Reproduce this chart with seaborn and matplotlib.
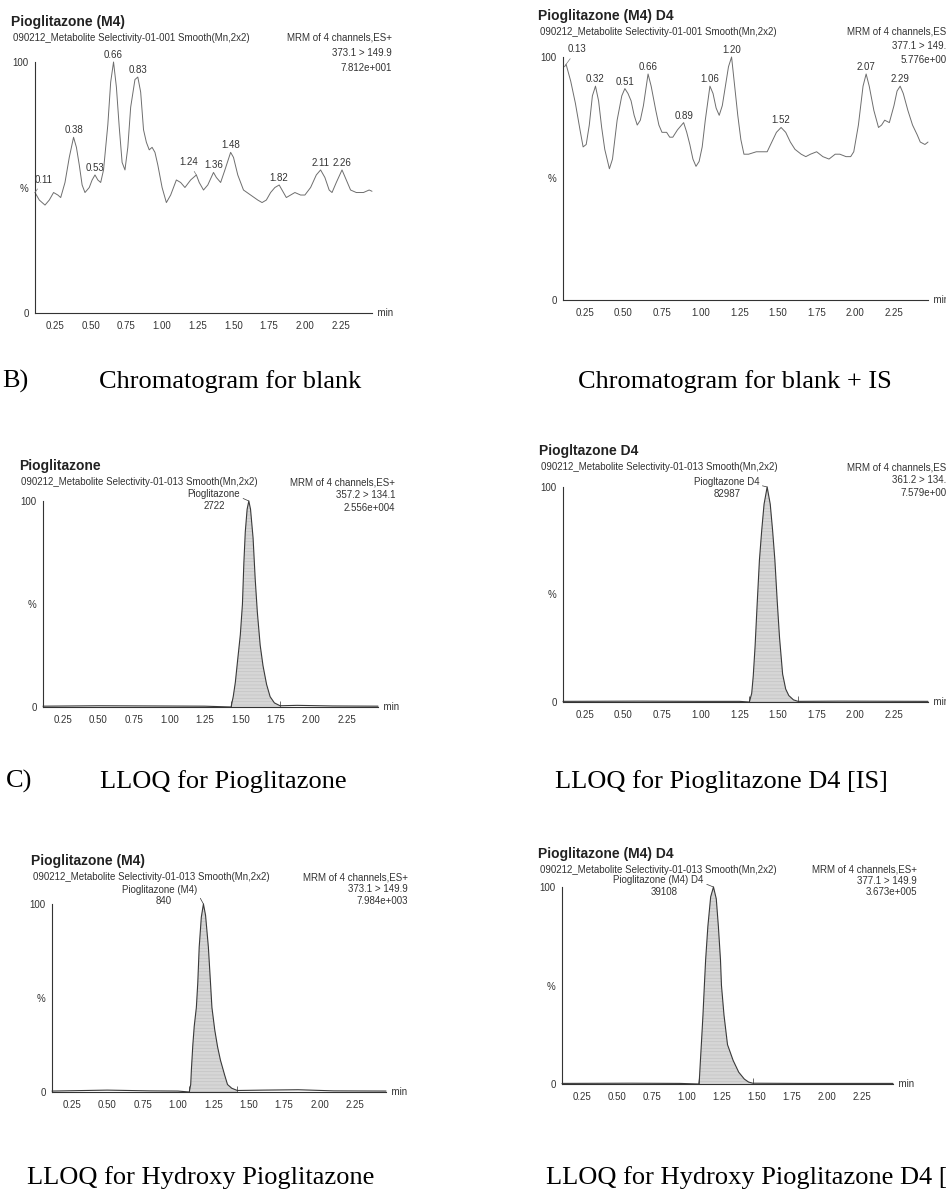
import matplotlib
matplotlib.use("Agg")
import matplotlib.pyplot as plt
from matplotlib.ticker import MultipleLocator
import seaborn as sns

# ------------------------------------------------------------
# DATA (time in min, % intensity)
# ------------------------------------------------------------

time_ticks = [0.25, 0.50, 0.75, 1.00, 1.25, 1.50, 1.75, 2.00, 2.25]
time_tick_labels = ["0.25", "0.50", "0.75", "1.00", "1.25", "1.50", "1.75", "2.00", "2.25"]
pct_ticks = [0, 50, 100]
pct_tick_labels = ["0", "%", "100"]

# A) blank, Pioglitazone (M4) channel
blank_t = [0.11, 0.14, 0.18, 0.21, 0.24, 0.27, 0.29, 0.32, 0.35, 0.38, 0.40, 0.42,
           0.44, 0.46, 0.49, 0.51, 0.53, 0.55, 0.57, 0.59, 0.62, 0.64, 0.66, 0.68,
           0.70, 0.72, 0.74, 0.76, 0.78, 0.81, 0.83, 0.85, 0.87, 0.89, 0.91, 0.93,
           0.95, 0.97, 1.00, 1.03, 1.06, 1.10, 1.13, 1.16, 1.20, 1.24, 1.26, 1.29,
           1.32, 1.36, 1.38, 1.41, 1.44, 1.48, 1.50, 1.53, 1.57, 1.62, 1.67, 1.70,
           1.73, 1.76, 1.79, 1.82, 1.85, 1.87, 1.90, 1.93, 1.97, 2.00, 2.04, 2.08,
           2.11, 2.14, 2.17, 2.19, 2.22, 2.26, 2.29, 2.32, 2.36, 2.41, 2.45, 2.47]
blank_v = [48, 45, 43, 45, 48, 47, 46, 52, 62, 70, 66, 59,
           51, 48, 50, 53, 55, 53, 52, 57, 75, 92, 100, 90,
           74, 60, 57, 66, 82, 93, 94, 88, 73, 68, 65, 66,
           64, 59, 50, 44, 47, 53, 52, 50, 53, 55, 52, 49,
           51, 56, 54, 52, 57, 64, 62, 55, 49, 47, 45, 44,
           45, 48, 50, 51, 48, 46, 47, 48, 47, 47, 50, 55,
           57, 54, 49, 48, 52, 57, 53, 49, 48, 48, 49, 48.5]
blank_peak_t = [0.11, 0.38, 0.53, 0.66, 0.83, 1.24, 1.36, 1.48, 1.82, 2.11, 2.26]
blank_peak_v = [48, 70, 55, 100, 94, 55, 56, 64, 51, 57, 57]

# blank + IS, Pioglitazone (M4) D4 channel
blank_is_t = [0.12, 0.13, 0.16, 0.19, 0.22, 0.24, 0.26, 0.28, 0.30, 0.32, 0.34, 0.36,
              0.38, 0.41, 0.43, 0.46, 0.49, 0.51, 0.53, 0.55, 0.57, 0.59, 0.61, 0.63,
              0.66, 0.68, 0.71, 0.73, 0.75, 0.78, 0.80, 0.82, 0.85, 0.89, 0.91, 0.93,
              0.95, 0.97, 0.99, 1.01, 1.03, 1.06, 1.08, 1.10, 1.12, 1.14, 1.16, 1.18,
              1.20, 1.22, 1.24, 1.26, 1.28, 1.31, 1.36, 1.40, 1.43, 1.46, 1.49, 1.52,
              1.55, 1.58, 1.61, 1.65, 1.68, 1.71, 1.75, 1.79, 1.83, 1.87, 1.90, 1.94,
              1.97, 1.99, 2.02, 2.05, 2.07, 2.09, 2.12, 2.15, 2.17, 2.19, 2.22, 2.25,
              2.27, 2.29, 2.31, 2.34, 2.37, 2.40, 2.42, 2.45, 2.47]
blank_is_v = [96, 97, 90, 81, 70, 63, 64, 72, 84, 88, 82, 71,
              62, 54, 58, 74, 84, 87, 85, 82, 76, 72, 74, 80,
              93, 88, 78, 72, 69, 69, 67, 67, 70, 73, 69, 64,
              58, 55, 57, 63, 74, 88, 85, 79, 76, 80, 88, 96,
              100, 88, 76, 66, 60, 60, 61, 61, 61, 65, 69, 71,
              69, 65, 62, 60, 59, 60, 61, 59, 58, 60, 60, 59,
              59, 61, 72, 88, 93, 88, 78, 71, 72, 74, 73, 80,
              86, 88, 85, 78, 72, 68, 65, 64, 65]
blank_is_peak_t = [0.13, 0.32, 0.51, 0.66, 0.89, 1.06, 1.20, 1.52, 2.07, 2.29]
blank_is_peak_v = [97, 88, 87, 93, 73, 88, 100, 71, 93, 88]

# B) LLOQ Pioglitazone
pio_t = [0.11, 0.50, 0.90, 1.25, 1.435, 1.45, 1.465, 1.48, 1.50, 1.515, 1.525, 1.535,
         1.548, 1.56, 1.572, 1.59, 1.605, 1.62, 1.64, 1.66, 1.685, 1.71, 1.74, 1.78,
         1.90, 2.15, 2.47]
pio_v = [0.4, 0.6, 0.5, 0.4, 0, 5, 12, 22, 35, 50, 70, 85,
         96, 100, 96, 82, 62, 46, 30, 20, 11, 5, 2, 0.6,
         0.8, 0.5, 0.4]
pio_d4_t = [0.11, 0.60, 1.00, 1.25, 1.315, 1.33, 1.34, 1.352, 1.365, 1.38, 1.395, 1.41,
            1.43, 1.45, 1.465, 1.48, 1.495, 1.51, 1.53, 1.55, 1.57, 1.60, 1.63,
            1.90, 2.47]
pio_d4_v = [0.3, 0.4, 0.3, 0.3, 0, 4, 12, 26, 45, 66, 80, 92,
            100, 92, 80, 66, 47, 30, 13, 6, 3, 1, 0.3,
            0.4, 0.3]

# C) LLOQ Hydroxy Pioglitazone (M4)
oh_t = [0.11, 0.50, 0.80, 1.00, 1.08, 1.09, 1.095, 1.105, 1.115, 1.13, 1.14, 1.15,
        1.165, 1.18, 1.195, 1.215, 1.23, 1.24, 1.26, 1.28, 1.30, 1.33, 1.35, 1.38,
        1.42, 1.60, 1.85, 2.10, 2.47]
oh_v = [0.5, 1.0, 0.6, 0.5, 0, 4, 12, 25, 35, 45, 58, 77,
        93, 100, 94, 77, 58, 45, 33, 24, 17, 9, 4, 2,
        0.8, 1.0, 1.2, 0.6, 0.5]
oh_d4_t = [0.11, 0.60, 0.95, 1.085, 1.09, 1.097, 1.105, 1.115, 1.125, 1.134, 1.15, 1.17,
           1.19, 1.21, 1.225, 1.24, 1.247, 1.265, 1.29, 1.33, 1.37, 1.41, 1.44, 1.47,
           1.80, 2.47]
oh_d4_v = [0.3, 0.4, 0.3, 0, 3, 12, 22, 35, 50, 63, 80, 95,
           100, 94, 80, 63, 50, 35, 20, 12, 6, 2.5, 1, 0.4,
           0.3, 0.3]

# integrated (shaded) region of each peak: start / end time
pio_int = [1.435, 1.78]
pio_d4_int = [1.315, 1.63]
oh_int = [1.08, 1.42]
oh_d4_int = [1.085, 1.47]

# ------------------------------------------------------------
# FIGURE
# ------------------------------------------------------------
W, H = 946, 1193
sns.set_style("white")
SANS = ["Liberation Sans Narrow", "Liberation Sans", "DejaVu Sans"]
SERIF = ["Liberation Serif", "DejaVu Serif"]
plt.rcParams["font.family"] = SANS
plt.rcParams["hatch.linewidth"] = 0.5

fig = plt.figure(figsize=(W / 100, H / 100), dpi=100)
fig.patch.set_facecolor("white")
INK = "#333333"
PT = 0.72  # points per pixel at dpi 100


def ftext(x, y, s, **kw):
    kw.setdefault("fontsize", 7)
    kw.setdefault("color", INK)
    kw.setdefault("va", "center")
    fig.text(x / W, 1 - y / H, s, **kw)


def make_axes(x0, x1, ytop, ybot, xmax=2.47):
    ax = fig.add_axes([x0 / W, 1 - ybot / H, (x1 - x0) / W, (ybot - ytop) / H])
    ax.set_xlim(0.11, xmax)
    ax.set_ylim(0, 100)
    ax.set_facecolor("none")
    for s in ["top", "right"]:
        ax.spines[s].set_visible(False)
    for s in ["left", "bottom"]:
        ax.spines[s].set_color(INK)
        ax.spines[s].set_linewidth(0.8)
    ax.set_xticks(time_ticks)
    ax.set_xticklabels(time_tick_labels)
    ax.xaxis.set_minor_locator(MultipleLocator(0.05))
    ax.set_yticks(pct_ticks)
    ax.set_yticklabels(pct_tick_labels)
    ax.yaxis.set_minor_locator(MultipleLocator(10))
    ax.tick_params(which="both", direction="out", color=INK, width=0.6,
                   labelsize=7, labelcolor=INK, pad=1.5)
    ax.tick_params(axis="x", which="major", length=4)
    ax.tick_params(axis="x", which="minor", length=2.5)
    ax.tick_params(axis="y", which="both", length=3)
    ax.text(1.0, 0, "  min", transform=ax.transAxes, ha="left", va="center",
            fontsize=7, color=INK)
    return ax


def trace(ax, t, v, color="#6e6e6e", lw=0.7):
    sns.lineplot(x=t, y=v, ax=ax, color=color, linewidth=lw, sort=False,
                 estimator=None)
    ax.lines[-1].set_clip_on(False)
    ax.lines[-1].set_solid_joinstyle("round")
    ax.set_xlabel("")
    ax.set_ylabel("")


def peak_labels(ax, pt, pv, special=None):
    special = special or {}
    for t, v in zip(pt, pv):
        lab = f"{t:.2f}"
        if lab in special:
            dx, dy = special[lab]
            ax.annotate(lab, xy=(t, v), xytext=(dx * PT, dy * PT),
                        textcoords="offset points", ha="center", va="center",
                        fontsize=7, color=INK,
                        arrowprops=dict(arrowstyle="-", lw=0.5, color="#777777",
                                        shrinkA=1, shrinkB=0))
        else:
            ax.annotate(lab, xy=(t, v), xytext=(0, 7 * PT),
                        textcoords="offset points", ha="center", va="center",
                        fontsize=7, color=INK)


def filled_peak(ax, t, v, span, name, area, name_off, area_off):
    trace(ax, t, v, color="#3a3a3a", lw=0.8)
    seg = [(a, b) for a, b in zip(t, v) if span[0] <= a <= span[1]]
    ax.fill_between([a for a, _ in seg], [b for _, b in seg], 0,
                    facecolor="#d6d6d6", edgecolor="#c4c4c4", hatch="-----",
                    linewidth=0)
    ax.vlines(span, 0, 3, color=INK, lw=0.5)
    apex = t[v.index(max(v))]
    ax.annotate(name, xy=(apex, 100), xytext=(name_off[0] * PT, name_off[1] * PT),
                textcoords="offset points", ha="right", va="center", fontsize=7,
                color=INK, arrowprops=dict(arrowstyle="-", lw=0.5, color=INK,
                                           shrinkA=0, shrinkB=0,
                                           relpos=(1.0, 0.2)))
    ax.annotate(area, xy=(apex, 100), xytext=(area_off[0] * PT, area_off[1] * PT),
                textcoords="offset points", ha="center", va="center", fontsize=7,
                color=INK)


def header(x, y, title, sub, rx, right_lines, dy=14):
    ftext(x, y, title, fontsize=10, fontweight="bold", color="#222222")
    ftext(x + 2, y + 16, sub)
    for i, s in enumerate(right_lines):
        ftext(rx, y + 16 + i * dy, s, ha="right")


# ---- row 1: blanks ------------------------------------------------
ax1 = make_axes(35, 372, 62, 313)
trace(ax1, blank_t, blank_v)
peak_labels(ax1, blank_peak_t, blank_peak_v,
            special={"0.11": (9, 13), "1.24": (-8, 13)})
header(11, 22, "Pioglitazone (M4)",
       "090212_Metabolite Selectivity-01-001 Smooth(Mn,2x2)", 392,
       ["MRM of 4 channels,ES+", "373.1 > 149.9", "7.812e+001"], dy=15)

ax2 = make_axes(563, 928, 57, 300)
trace(ax2, blank_is_t, blank_is_v)
peak_labels(ax2, blank_is_peak_t, blank_is_peak_v, special={"0.13": (11, 15)})
header(538, 16, "Pioglitazone (M4) D4",
       "090212_Metabolite Selectivity-01-001 Smooth(Mn,2x2)", 952,
       ["MRM of 4 channels,ES+", "377.1 > 149.9", "5.776e+001"])

# ---- row 2: LLOQ pioglitazone ----------------------------------------
ax3 = make_axes(43, 378, 501, 707)
filled_peak(ax3, pio_t, pio_v, pio_int, "Pioglitazone", "2722", (-9, 7), (-35, -5))
header(19, 466, "Pioglitazone",
       "090212_Metabolite Selectivity-01-013 Smooth(Mn,2x2)", 395,
       ["MRM of 4 channels,ES+", "357.2 > 134.1", "2.556e+004"], dy=13)

ax4 = make_axes(563, 928, 487, 702)
filled_peak(ax4, pio_d4_t, pio_d4_v, pio_d4_int, "Piogltazone D4", "82987",
            (-8, 5), (-40, -7))
header(539, 451, "Piogltazone D4",
       "090212_Metabolite Selectivity-01-013 Smooth(Mn,2x2)", 952,
       ["MRM of 4 channels,ES+", "361.2 > 134.1", "7.579e+004"], dy=13)

# ---- row 3: LLOQ hydroxy pioglitazone --------------------------------
ax5 = make_axes(52, 386, 904, 1092)
filled_peak(ax5, oh_t, oh_v, oh_int, "Pioglitazone (M4)", "840", (-6, 14), (-40, 3))
header(31, 861, "Pioglitazone (M4)",
       "090212_Metabolite Selectivity-01-013 Smooth(Mn,2x2)", 408,
       ["MRM of 4 channels,ES+", "373.1 > 149.9", "7.984e+003"], dy=12)

ax6 = make_axes(562, 893, 887, 1084)
filled_peak(ax6, oh_d4_t, oh_d4_v, oh_d4_int, "Pioglitazone (M4) D4", "39108",
            (-10, 7), (-49, -5))
header(538, 854, "Pioglitazone (M4) D4",
       "090212_Metabolite Selectivity-01-013 Smooth(Mn,2x2)", 917,
       ["MRM of 4 channels,ES+", "377.1 > 149.9", "3.673e+005"], dy=11)

# ---- captions ---------------------------------------------------------
cap = dict(fontsize=19, family=SERIF, color="black", va="baseline")
ftext(2, 388, "B)", **cap)
ftext(99, 388, "Chromatogram for blank", **cap)
ftext(578, 388, "Chromatogram for blank + IS", **cap)
ftext(6, 788, "C)", **cap)
ftext(100, 788, "LLOQ for Pioglitazone", **cap)
ftext(555, 788, "LLOQ for Pioglitazone D4 [IS]", **cap)
ftext(27, 1184, "LLOQ for Hydroxy Pioglitazone", **cap)
ftext(546, 1184, "LLOQ for Hydroxy Pioglitazone D4 [IS]", **cap)

fig.savefig("out.png", dpi=100, facecolor="white")
